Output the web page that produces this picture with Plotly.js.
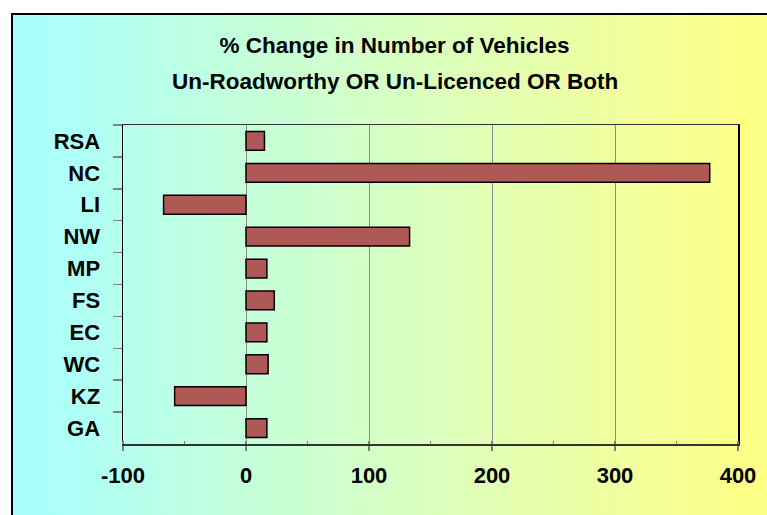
<!DOCTYPE html>
<html>
<head>
<meta charset="utf-8">
<script src="https://cdn.plot.ly/plotly-3.0.1.min.js"></script>
<style>
  body { margin: 0; background: #fff; overflow: hidden; }
  #frame {
    position: absolute; left: 11px; top: 13px; width: 780px; height: 540px;
    border: 2px solid #000;
    background: linear-gradient(to right, #a9ffff 0%, #abfffb 4%, #d6ffc4 48%, #f2ff9c 80%, #ffff7c 100%);
  }
  #chart { position: absolute; left: 0; top: 0; width: 767px; height: 515px; }
</style>
</head>
<body>
<div id="frame"></div>
<div id="chart"></div>
<script>
// regions, top to bottom as in the chart
var regions = ['RSA', 'NC', 'LI', 'NW', 'MP', 'FS', 'EC', 'WC', 'KZ', 'GA'];
// % change
var pctChange = [15, 377, -67, 133, 17, 23, 17, 18, -58, 17];

// x tick labels use a plain hyphen like the original
var xTickVals = [-100, 0, 100, 200, 300, 400];
var xTickText = ['-100', '0', '100', '200', '300', '400'];

var titleLine1 = '% Change in Number of Vehicles';
var titleLine2 = 'Un-Roadworthy OR Un-Licenced OR Both';

var fontFam = '"Liberation Sans", Arial, sans-serif';

var trace = {
    type: 'bar',
    orientation: 'h',
    x: pctChange,
    y: regions,
    marker: {color: '#ae5956', line: {color: '#000', width: 1.5}},
    hoverinfo: 'skip'
};

var layout = {
    width: 767,
    height: 515,
    margin: {l: 123, r: 29, t: 125, b: 71},
    paper_bgcolor: 'rgba(0,0,0,0)',
    plot_bgcolor: 'rgba(0,0,0,0)',
    showlegend: false,
    bargap: 0.41,
    font: {family: fontFam, color: '#000'},
    title: {
        text: titleLine1,
        font: {family: fontFam, size: 22.5, weight: 'bold', color: '#000'},
        x: 394.5 / 767, xanchor: 'center',
        xref: 'container', yref: 'container',
        y: 1 - 45 / 515, yanchor: 'middle'
    },
    annotations: [{
        text: titleLine2,
        showarrow: false,
        xref: 'paper', yref: 'paper',
        x: (394.5 - 123) / 615, xanchor: 'center',
        y: 1 + (125 - 81.5) / 319, yanchor: 'middle',
        font: {family: fontFam, size: 22.5, weight: 'bold', color: '#000'}
    }],
    xaxis: {
        range: [-100, 400],
        tickvals: xTickVals, ticktext: xTickText,
        showgrid: true, gridcolor: '#8c8c8c', gridwidth: 1,
        zeroline: true, zerolinecolor: '#8c8c8c', zerolinewidth: 1,
        showline: true, linecolor: '#333', linewidth: 1.5, mirror: true,
        ticks: 'outside', ticklen: 5, tickcolor: '#808080', tickwidth: 1.5,
        minor: {dtick: 50, ticks: 'inside', ticklen: 3, tickcolor: '#808080', tickwidth: 1.5, showgrid: false},
        ticklabelstandoff: 6,
        tickfont: {family: fontFam, size: 22, weight: 'bold', color: '#000'},
        fixedrange: true
    },
    yaxis: {
        autorange: 'reversed',
        type: 'category',
        tickson: 'boundaries',
        showgrid: false,
        showline: true, linecolor: '#000', linewidth: 1.5, mirror: true,
        ticks: 'outside', ticklen: 9, tickcolor: '#808080', tickwidth: 1.5,
        ticklabelstandoff: 17,
        tickfont: {family: fontFam, size: 22, weight: 'bold', color: '#000'},
        fixedrange: true
    },
    // overlay axes for the inner half of the crossing ticks
    xaxis2: {
        overlaying: 'x', anchor: 'y', side: 'bottom',
        range: [-100, 400], dtick: 100,
        showgrid: false, zeroline: false, showline: false,
        ticks: 'inside', ticklen: 5, tickcolor: '#808080', tickwidth: 1.5,
        showticklabels: false, fixedrange: true
    },
    yaxis2: {
        overlaying: 'y', anchor: 'x', side: 'left',
        range: [regions.length - 0.5, -0.5],
        tick0: 0.5, dtick: 1,
        showgrid: false, zeroline: false, showline: false,
        ticks: 'inside', ticklen: 10, tickcolor: '#808080', tickwidth: 1.5,
        showticklabels: false, fixedrange: true
    }
};

Plotly.newPlot('chart', [trace], layout, {displayModeBar: false, staticPlot: true});
</script>
</body>
</html>
